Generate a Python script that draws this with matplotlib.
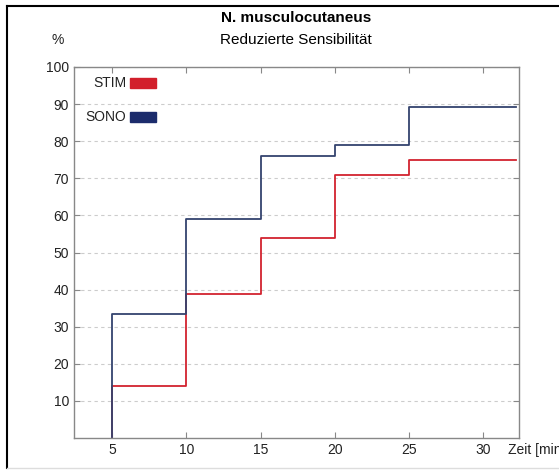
import matplotlib
matplotlib.use("Agg")
import matplotlib.pyplot as plt
from matplotlib.lines import Line2D
from matplotlib.patches import Rectangle

plt.rcParams['font.family'] = ['Liberation Sans', 'DejaVu Sans']

# Zeitpunkte [min] und Anteil [%] mit reduzierter Sensibilitaet
zeit = [5, 10, 15, 20, 25, 32.2]
stim = [14, 38.8, 54, 71, 75, 75]
sono = [33.3, 59, 76, 79, 89.2, 89.2]
namen = ["STIM", "SONO"]
farben_linie = ["#d2232f", "#34436e"]
farben_legende = ["#d21f2b", "#1c2c6c"]

fig = plt.figure(figsize=(5.59, 4.72), dpi=100)
ax = fig.add_axes([74 / 559, 1 - 438 / 472, (519 - 74) / 559, (438 - 67) / 472])

for werte, f in zip([stim, sono], farben_linie):
    x = [zeit[0]] + zeit
    y = [0] + werte
    ax.step(x, y, where='post', color=f, lw=1.3)

ax.set_xlim(2.43, 32.4)
ax.set_ylim(0, 100)
ax.set_xticks([5, 10, 15, 20, 25, 30])
ax.set_yticks(range(10, 101, 10))
ax.yaxis.grid(True, ls=(0, (3, 3)), color='#cccccc', lw=0.8)
ax.set_axisbelow(True)
ax.tick_params(direction='in', top=True, right=True, length=4, width=0.8,
               color='#888888', labelsize=10, labelcolor='#222222')
for s in ax.spines.values():
    s.set_color('#888888')
    s.set_linewidth(1.0)

# Legende als Text mit Farbfeld
for i, (n, f) in enumerate(zip(namen, farben_legende)):
    ytop = 78 + i * 34
    fig.text(126 / 559, 1 - (ytop + 5) / 472, n, ha='right', va='center',
             fontsize=10, color='#222222')
    fig.add_artist(Rectangle((130 / 559, 1 - (ytop + 10) / 472), 26 / 559, 10 / 472,
                             color=f, transform=fig.transFigure))

fig.text(296 / 559, 1 - 18 / 472, "N. musculocutaneus", ha='center', va='center',
         fontsize=11, fontweight='bold')
fig.text(296 / 559, 1 - 40 / 472, "Reduzierte Sensibilität", ha='center', va='center',
         fontsize=11)
fig.text(58 / 559, 1 - 40 / 472, "%", ha='center', va='center', fontsize=10,
         color='#222222')
fig.text(508 / 559, 1 - 450 / 472, "Zeit [min]", ha='left', va='center',
         fontsize=10, color='#222222')

# Rahmen um die Grafik
fig.add_artist(Line2D([7 / 559, 7 / 559], [1 - 6 / 472, 1 - 468 / 472], color='black', lw=1.5))
fig.add_artist(Line2D([7 / 559, 1], [1 - 6 / 472, 1 - 6 / 472], color='black', lw=1.5))
fig.add_artist(Line2D([7 / 559, 1], [1 - 468 / 472, 1 - 468 / 472], color='#dddddd', lw=1))

fig.savefig("out.png", dpi=100)
